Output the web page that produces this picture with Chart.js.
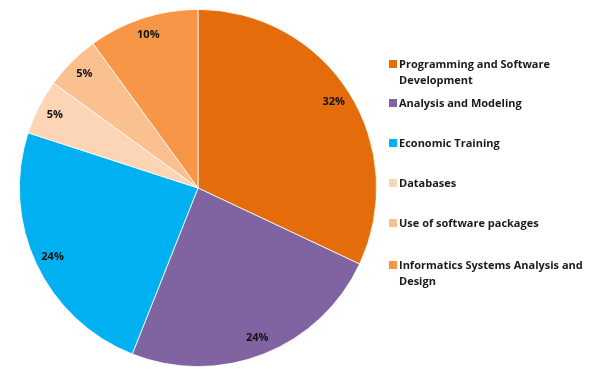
<!DOCTYPE html>
<html>
<head>
<meta charset="utf-8">
<script src="https://cdn.jsdelivr.net/npm/chart.js@4/dist/chart.umd.min.js"></script>
<style>
  html, body { margin: 0; padding: 0; background: #fff; }
  #wrap { position: relative; width: 598px; height: 377px; }
  #chartBox { position: absolute; left: 0; top: 0; width: 396px; height: 377px; }
  #legend { position: absolute; left: 388px; top: 0; width: 210px; height: 377px;
            font-family: "Open Sans", sans-serif; font-weight: 700; font-size: 11px; color: #1a1a1a; }
  .item { position: absolute; left: 0; width: 208px; line-height: 16px; }
  .box { position: absolute; left: 1px; top: 4px; width: 8px; height: 8px; }
  .txt { margin-left: 11px; }
</style>
</head>
<body>
<div id="wrap">
  <div id="chartBox"><canvas id="pieChart"></canvas></div>
  <div id="legend"></div>
</div>
<script>
let labels = ['Programming and Software Development', 'Analysis and Modeling', 'Economic Training',
              'Databases', 'Use of software packages', 'Informatics Systems Analysis and Design']
let legendLines = [['Programming and Software', 'Development'], ['Analysis and Modeling'], ['Economic Training'],
                   ['Databases'], ['Use of software packages'], ['Informatics Systems Analysis and', 'Design']]
let values = [32, 24, 24, 5, 5, 10]
let colors = ['#E46C0A', '#8064A2', '#00B0F0', '#FBD5B5', '#FAC090', '#F79646']

// percent labels drawn near the outer edge of each slice
const sliceLabels = {
    id: 'sliceLabels',
    afterDatasetsDraw(chart) {
        var ctx = chart.ctx
        var meta = chart.getDatasetMeta(0)
        ctx.save()
        ctx.font = 'bold 11px "Open Sans", sans-serif'
        ctx.fillStyle = '#111'
        ctx.textAlign = 'center'
        ctx.textBaseline = 'middle'
        meta.data.forEach(function (arc, i) {
            var p = arc.getProps(['x', 'y', 'startAngle', 'endAngle', 'outerRadius'], true)
            var mid = (p.startAngle + p.endAngle) / 2
            var r = p.outerRadius * 0.9
            ctx.fillText(values[i] + '%', p.x + Math.cos(mid) * r, p.y + Math.sin(mid) * r)
        })
        ctx.restore()
    }
}

function createPieChart(elementID, labels, values, colors) {
    var ctx2 = document.getElementById(elementID)
    return new Chart(ctx2, {
        type: 'pie',
        data: {
            labels: labels,
            datasets: [{
                backgroundColor: colors,
                borderColor: '#ffffff',
                borderWidth: 0.8,
                data: values
            }]
        },
        options: {
            responsive: true,
            maintainAspectRatio: false,
            animation: false,
            layout: { padding: { top: 9, bottom: 10, left: 0, right: 0 } },
            plugins: {
                legend: { display: false },
                tooltip: { enabled: false },
                title: { display: false }
            }
        },
        plugins: [sliceLabels]
    })
}

function buildLegend() {
    var tops = [56, 95, 135, 175, 215, 257]
    var box = document.getElementById('legend')
    legendLines.forEach(function (lines, i) {
        var item = document.createElement('div')
        item.className = 'item'
        item.style.top = tops[i] + 'px'
        var sw = document.createElement('span')
        sw.className = 'box'
        sw.style.background = colors[i]
        item.appendChild(sw)
        var t = document.createElement('div')
        t.className = 'txt'
        t.innerHTML = lines.join('<br>')
        item.appendChild(t)
        box.appendChild(item)
    })
}

createPieChart('pieChart', labels, values, colors)
buildLegend()
</script>
</body>
</html>
